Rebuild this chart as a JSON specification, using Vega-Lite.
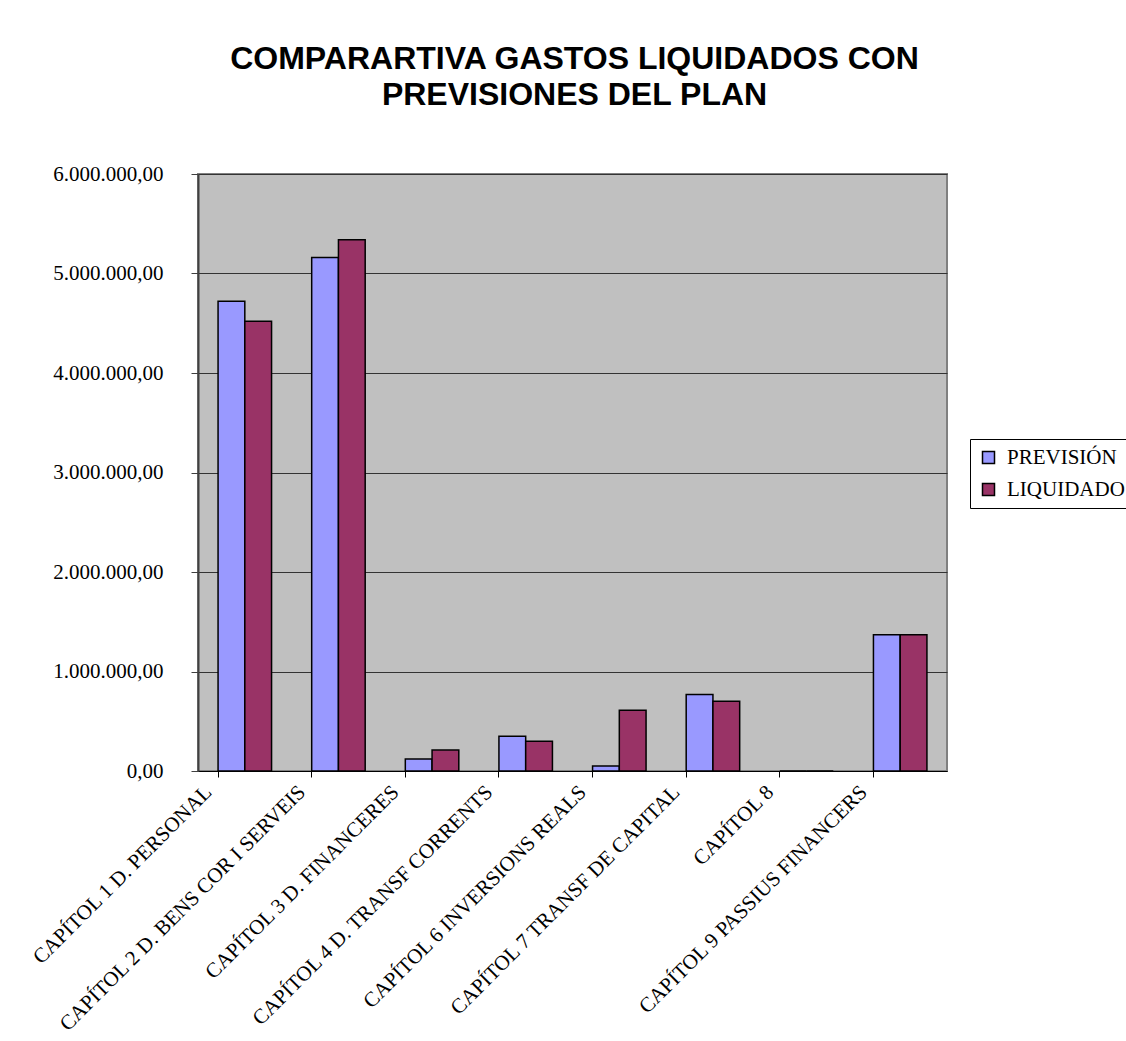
{
  "$schema": "https://vega.github.io/schema/vega-lite/v6.json",
  "width": 749,
  "height": 597,
  "autosize": {"type": "none"},
  "padding": {"left": 198, "top": 174, "right": 179, "bottom": 270},
  "background": "white",
  "title": {
    "text": ["COMPARARTIVA GASTOS LIQUIDADOS CON", "PREVISIONES DEL PLAN"],
    "font": "Liberation Sans",
    "fontSize": 32,
    "fontWeight": "bold",
    "color": "black",
    "anchor": "middle",
    "offset": 51,
    "lineHeight": 36,
    "dx": 2
  },
  "config": {
    "locale": {"number": {"decimal": ",", "thousands": ".", "grouping": [3], "currency": ["", "€"]}},
    "view": {"fill": "#C0C0C0", "stroke": "#808080", "strokeWidth": 2}
  },
  "data": {
    "values": [
      {"capitol": "CAPÍTOL 1 D. PERSONAL", "serie": "PREVISIÓN", "valor": 4720000},
      {"capitol": "CAPÍTOL 1 D. PERSONAL", "serie": "LIQUIDADO", "valor": 4520000},
      {"capitol": "CAPÍTOL 2 D. BENS COR I SERVEIS", "serie": "PREVISIÓN", "valor": 5160000},
      {"capitol": "CAPÍTOL 2 D. BENS COR I SERVEIS", "serie": "LIQUIDADO", "valor": 5340000},
      {"capitol": "CAPÍTOL 3 D. FINANCERES", "serie": "PREVISIÓN", "valor": 120000},
      {"capitol": "CAPÍTOL 3 D. FINANCERES", "serie": "LIQUIDADO", "valor": 210000},
      {"capitol": "CAPÍTOL 4 D. TRANSF CORRENTS", "serie": "PREVISIÓN", "valor": 350000},
      {"capitol": "CAPÍTOL 4 D. TRANSF CORRENTS", "serie": "LIQUIDADO", "valor": 300000},
      {"capitol": "CAPÍTOL 6 INVERSIONS REALS", "serie": "PREVISIÓN", "valor": 50000},
      {"capitol": "CAPÍTOL 6 INVERSIONS REALS", "serie": "LIQUIDADO", "valor": 610000},
      {"capitol": "CAPÍTOL 7 TRANSF DE CAPITAL", "serie": "PREVISIÓN", "valor": 770000},
      {"capitol": "CAPÍTOL 7 TRANSF DE CAPITAL", "serie": "LIQUIDADO", "valor": 700000},
      {"capitol": "CAPÍTOL 8", "serie": "PREVISIÓN", "valor": 0},
      {"capitol": "CAPÍTOL 8", "serie": "LIQUIDADO", "valor": 0},
      {"capitol": "CAPÍTOL 9 PASSIUS FINANCERS", "serie": "PREVISIÓN", "valor": 1370000},
      {"capitol": "CAPÍTOL 9 PASSIUS FINANCERS", "serie": "LIQUIDADO", "valor": 1370000}
    ]
  },
  "mark": {"type": "bar", "stroke": "black", "strokeWidth": 1.5},
  "encoding": {
    "x": {
      "field": "capitol",
      "type": "nominal",
      "sort": null,
      "scale": {"paddingInner": 0.4286, "paddingOuter": 0.2143},
      "axis": {
        "title": null,
        "labelAngle": -45,
        "labelAlign": "right",
        "labelBaseline": "alphabetic",
        "labelOffset": -32,
        "bandPosition": 0,
        "tickSize": 6,
        "tickColor": "black",
        "domainColor": "black",
        "labelFont": "Liberation Serif",
        "labelFontSize": 21,
        "labelColor": "black",
        "labelPadding": 16,
        "labelLimit": 500,
        "labelOverlap": false,
        "grid": false
      }
    },
    "xOffset": {
      "field": "serie",
      "type": "nominal",
      "sort": ["PREVISIÓN", "LIQUIDADO"],
      "scale": {"paddingInner": 0, "paddingOuter": 0}
    },
    "y": {
      "field": "valor",
      "type": "quantitative",
      "scale": {"domain": [0, 6000000], "nice": false},
      "axis": {
        "title": null,
        "values": [0, 1000000, 2000000, 3000000, 4000000, 5000000, 6000000],
        "format": ",.2f",
        "labelFont": "Liberation Serif",
        "labelFontSize": 21,
        "labelColor": "black",
        "tickSize": 7,
        "tickColor": "#404040",
        "domainColor": "#404040",
        "domainWidth": 2,
        "labelPadding": 28,
        "grid": true,
        "gridColor": "#333333"
      }
    },
    "color": {
      "field": "serie",
      "type": "nominal",
      "scale": {"domain": ["PREVISIÓN", "LIQUIDADO"], "range": ["#9999FF", "#993366"]},
      "legend": {
        "title": null,
        "orient": "none",
        "legendX": 772,
        "legendY": 265,
        "strokeColor": "black",
        "fillColor": "white",
        "padding": 8,
        "symbolType": "square",
        "symbolSize": 144,
        "symbolStrokeColor": "black",
        "labelFont": "Liberation Serif",
        "labelFontSize": 21,
        "labelColor": "black",
        "labelOffset": 8,
        "rowPadding": 10
      }
    }
  }
}
